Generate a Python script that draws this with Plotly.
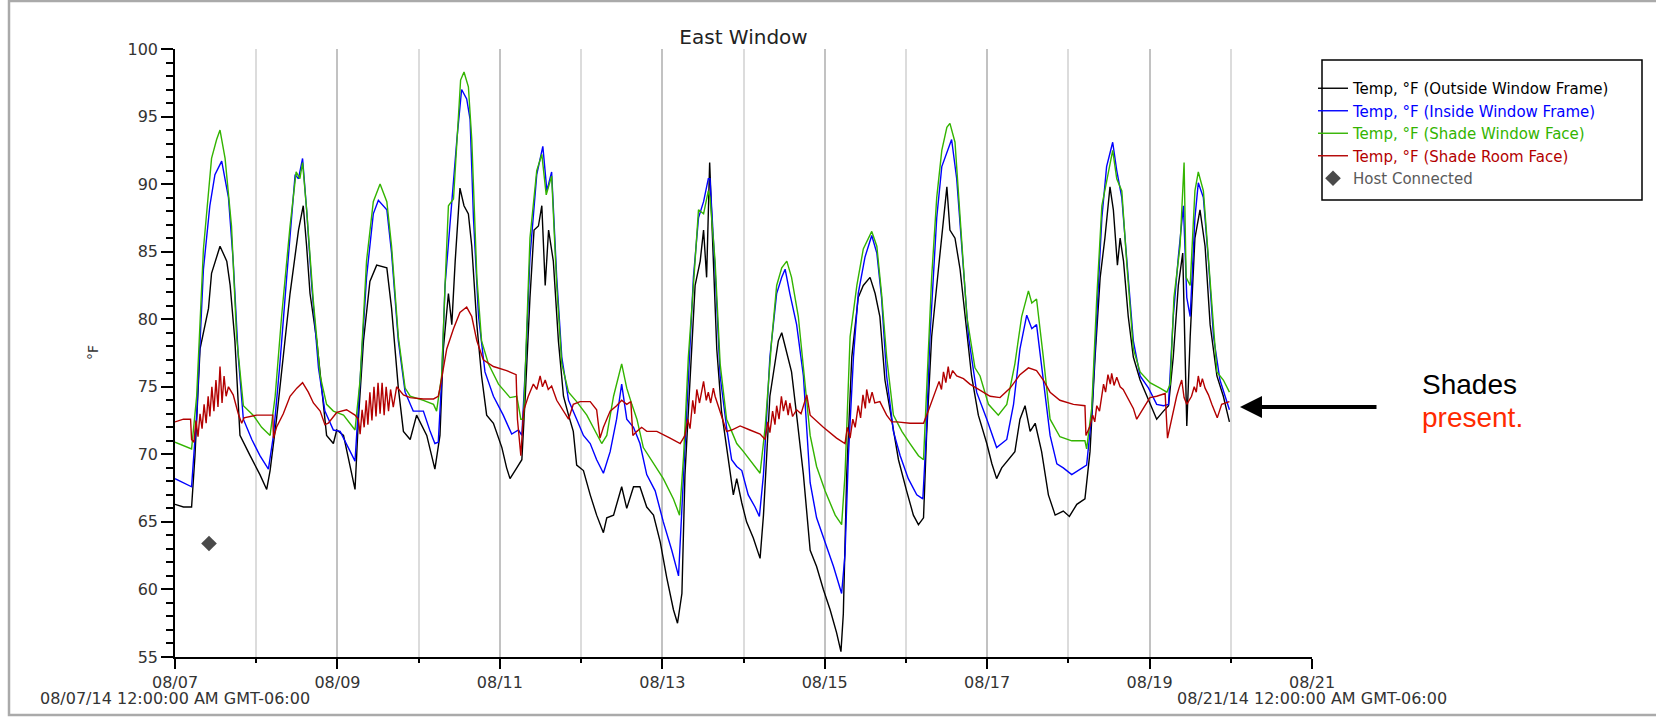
import pandas as pd
import plotly.graph_objects as go

START = pd.Timestamp("2014-08-07 00:00")

# ---- data (hours since 08/07/14 00:00, temperature in °F) ----
outside_h = [0, 2.5, 4.9, 5.9, 7.4, 9.9, 10.8, 13.3, 15.3, 16.3, 17.7, 19.2, 22.2, 25.1, 27.1, 28.1, 30.0, 32.0, 34.0, 36.5, 37.9, 38.9, 39.9, 41.9, 43.3, 44.8, 46.8, 47.8, 49.8, 51.7, 53.2, 54.2, 55.7, 57.6, 59.6, 62.6, 64.0, 66.0, 67.5, 69.5, 71.4, 74.4, 76.8, 78.3,
             79.3, 80.8, 81.8, 82.8, 84.2, 85.4, 86.7, 87.7, 89.2, 90.6, 92.1, 94.1, 96.6, 98.0, 99.0, 101.0, 102.5, 103.5, 104.9, 106.1, 107.4, 108.4, 109.4, 110.4, 111.8, 113.3, 114.8, 116.3, 117.7, 118.7, 120.7, 122.7, 124.6, 126.6, 127.6, 129.6, 132.0, 133.5, 135.5, 137.4, 139.4, 141.4, 143.4, 145.3, 147.3, 148.5, 149.8, 150.7, 152.2, 153.7, 155.2, 156.2, 157.1, 158.0,
             159.1, 160.1, 161.5, 163.5, 165.0, 166.0, 167.5, 168.9, 170.9, 172.9, 173.9, 175.8, 178.3, 179.3, 180.8, 182.2, 183.7, 185.7, 187.7, 189.6, 191.6, 193.6, 195.5, 196.8, 197.5, 198.5, 200.0, 201.9, 203.4, 205.4, 206.9, 208.3, 209.8, 211.8, 213.8, 216.2, 218.2, 219.7, 221.2, 222.1, 223.6, 225.6, 227.1, 228.1, 229.0, 230.5, 232.0, 233.5, 235.4, 237.4,
             239.9, 241.4, 242.8, 244.3, 246.3, 248.2, 249.7, 251.2, 252.7, 254.2, 256.1, 258.1, 260.1, 262.5, 264.3, 266.5, 268.9, 270.4, 271.9, 273.4, 274.8, 276.3, 277.3, 278.5, 279.3, 280.3, 281.7, 283.2, 285.2, 287.2, 288.6, 290.1, 292.1, 293.6, 295.0, 296.5, 297.8, 298.5, 299.0, 300.0, 301.4, 302.9, 304.4, 305.9, 307.9, 309.8, 311.6]
outside_v = [66.3, 66.1, 66.1, 69.9, 77.8, 80.8, 83.4, 85.4, 84.3, 82.5, 78.4, 71.4, 69.9, 68.5, 67.4, 68.8, 72.6, 77.2, 81.9, 86.6, 88.4, 85.4, 81.9, 78.4, 74.9, 71.4, 70.8, 71.8, 71.4, 69.3, 67.4, 72.6, 78.4, 82.8, 84.0, 83.8, 80.8, 74.9, 71.7, 71.1, 72.9, 71.4, 68.9, 71.4,
             77.8, 81.9, 79.6, 84.3, 89.7, 88.4, 87.8, 85.4, 79.6, 75.8, 72.9, 72.3, 70.5, 69.0, 68.2, 69.0, 69.6, 74.3, 81.6, 86.6, 86.9, 88.4, 82.5, 86.6, 84.3, 78.4, 74.3, 72.9, 71.7, 69.2, 68.8, 67.0, 65.5, 64.2, 65.3, 65.5, 67.6, 66.0, 67.6, 67.6, 66.1, 65.5, 63.5, 60.9, 58.5, 57.5, 59.7, 68.5, 75.8, 82.5, 84.3, 86.6, 83.1, 91.6,
             84.3, 77.8, 73.2, 69.6, 67.0, 68.2, 66.4, 65.0, 63.8, 62.3, 65.5, 74.3, 78.4, 79.0, 77.5, 76.1, 72.9, 68.5, 62.9, 61.7, 60.0, 58.5, 56.8, 55.4, 58.2, 68.5, 77.2, 81.6, 82.5, 83.1, 81.9, 80.2, 75.5, 72.6, 69.6, 67.3, 65.5, 64.8, 65.3, 71.4, 78.7, 83.7, 87.2, 89.8, 86.6, 86.0, 83.7, 80.2, 75.8, 72.9,
             70.8, 69.3, 68.2, 69.0, 69.6, 70.2, 72.6, 73.6, 71.7, 72.3, 70.2, 67.0, 65.5, 65.8, 65.4, 66.3, 66.7, 70.2, 77.2, 83.1, 86.0, 89.8, 88.1, 84.0, 86.0, 84.3, 80.2, 77.2, 75.5, 74.3, 73.4, 72.6, 73.2, 73.6, 77.2, 82.5, 84.9, 75.8, 72.1, 78.7, 86.0, 88.1, 85.4, 79.6, 75.8, 74.3, 72.4]

inside_h = [0, 4.9, 6.4, 8.4, 10.3, 11.8, 13.8, 15.8, 17.2, 18.7, 20.2, 22.7, 25.1, 27.6, 29.1, 31.0, 33.0, 35.5, 36.5, 37.7, 38.9, 40.4, 42.4, 44.3, 46.8, 48.8, 51.2, 53.2, 54.7, 56.6, 58.6, 60.1, 62.6, 64.0, 66.0, 68.0, 70.4, 73.4, 75.4, 76.8, 77.8,
            78.8, 79.8, 81.3, 83.3, 84.7, 86.2, 87.2, 88.2, 89.7, 91.6, 94.1, 97.0, 99.5, 101.5, 102.5, 103.7, 104.9, 106.9, 108.7, 109.9, 111.3, 112.8, 114.3, 116.3, 118.7, 120.7, 122.7, 124.6, 126.6, 128.6, 130.5, 132.0, 133.5, 135.5, 137.4, 139.4, 141.9, 144.3, 146.8, 148.8, 150.3, 151.7, 153.2, 154.7, 156.2, 157.6,
            158.1, 159.6, 161.1, 163.0, 164.5, 166.0, 167.5, 169.4, 171.4, 172.7, 173.9, 175.8, 177.8, 179.3, 180.3, 181.7, 183.7, 185.7, 187.7, 189.6, 192.1, 194.6, 197.0, 198.0, 199.0, 200.5, 201.9, 203.9, 205.9, 207.4, 208.8, 210.3, 212.3, 214.3, 216.7, 219.2, 221.0, 222.0, 223.1, 225.1, 226.6, 228.1, 229.5, 231.0, 232.5, 234.5, 236.9,
            239.9, 242.8, 245.8, 247.8, 249.7, 251.7, 253.2, 254.6, 256.6, 258.6, 260.6, 262.5, 265.0, 267.5, 269.4, 270.9, 272.4, 273.9, 275.3, 277.1, 278.3, 279.8, 281.3, 283.2, 285.2, 287.7, 290.1, 292.1, 293.6, 295.0, 296.5, 298.0, 299.0, 300.0, 301.4, 302.4, 303.9, 305.4, 306.9, 308.8, 311.6]
inside_v = [68.2, 67.6, 72.9, 83.7, 88.4, 90.7, 91.7, 89.0, 84.3, 77.2, 72.6, 71.1, 69.9, 68.9, 71.4, 76.7, 83.1, 90.7, 90.4, 91.9, 88.1, 82.5, 76.4, 73.2, 71.8, 71.7, 70.5, 69.5, 75.5, 83.1, 87.8, 88.8, 88.1, 84.9, 78.4, 74.6, 73.2, 73.2, 71.7, 70.8, 70.9,
            75.5, 82.5, 87.2, 93.3, 97.0, 96.3, 94.8, 87.5, 80.2, 76.1, 74.3, 72.9, 71.5, 71.8, 71.4, 77.2, 84.6, 90.7, 92.8, 89.5, 90.9, 83.1, 77.2, 74.0, 72.6, 71.4, 70.8, 69.6, 68.6, 70.2, 72.6, 75.2, 72.6, 72.0, 70.8, 68.5, 67.3, 65.0, 62.9, 61.0, 68.5, 75.8, 83.1, 87.5, 88.7, 90.4,
            90.4, 83.7, 75.8, 72.0, 69.6, 69.1, 68.8, 67.0, 66.1, 65.4, 68.5, 77.2, 81.9, 83.1, 83.7, 81.9, 79.6, 75.8, 67.9, 65.3, 63.5, 61.7, 59.7, 62.6, 69.9, 77.2, 81.9, 84.6, 86.2, 84.9, 81.6, 75.8, 71.7, 69.9, 68.2, 67.0, 66.7, 71.4, 78.7, 87.5, 91.3, 92.3, 93.3, 90.4, 85.2, 78.7, 74.6,
            72.6, 70.5, 71.1, 73.7, 77.8, 80.3, 79.3, 79.6, 75.5, 71.4, 69.3, 69.0, 68.5, 68.9, 69.2, 72.9, 80.2, 87.5, 91.3, 93.1, 91.0, 89.0, 84.3, 78.4, 75.8, 74.9, 73.7, 73.6, 73.7, 80.2, 84.6, 88.4, 81.6, 80.2, 87.5, 90.1, 89.0, 84.3, 78.7, 75.5, 73.3]

shade_win_h = [0, 4.9, 6.4, 8.4, 10.8, 12.3, 13.3, 14.8, 16.7, 18.2, 20.2, 23.1, 25.6, 28.1, 29.6, 31.5, 34.0, 35.8, 36.9, 37.7, 38.9, 40.9, 42.9, 44.8, 46.8, 49.8, 53.2, 54.7, 56.6, 58.6, 60.6, 62.6, 64.0, 66.0, 68.0, 69.5, 73.4, 76.4, 77.3, 78.8,
               79.8, 80.8, 82.3, 83.3, 84.4, 85.4, 86.7, 87.7, 89.2, 90.6, 92.6, 95.6, 99.0, 101.0, 102.2, 103.0, 103.7, 104.9, 106.9, 108.4, 109.7, 111.3, 112.8, 114.3, 116.3, 118.7, 121.7, 124.1, 126.1, 127.6, 129.6, 132.0, 133.5, 135.0, 136.5, 138.4, 141.4, 144.3, 147.3, 149.1, 150.3, 151.7, 153.2, 154.7, 156.2, 157.6,
               158.1, 159.6, 161.1, 163.0, 164.5, 166.0, 168.0, 170.9, 172.9, 174.4, 176.3, 177.8, 179.3, 180.8, 182.2, 184.2, 186.2, 187.7, 189.6, 192.1, 195.1, 197.0, 198.0, 199.5, 201.5, 203.4, 205.9, 207.4, 208.8, 210.3, 212.3, 214.8, 217.2, 219.7, 221.2, 222.1, 223.6, 225.1, 226.6, 228.1, 229.0, 230.5, 232.0, 234.0, 236.4,
               237.9, 240.4, 243.3, 245.8, 248.2, 250.2, 252.2, 253.2, 254.6, 256.6, 258.6, 261.5, 265.0, 268.9, 269.4, 270.9, 272.4, 273.9, 275.3, 277.1, 278.3, 279.8, 281.3, 283.2, 285.2, 288.1, 291.1, 293.1, 294.1, 295.2, 297.0, 298.2, 298.8, 300.0, 301.4, 302.4, 303.9, 305.9, 307.9, 309.8, 311.6]
shade_win_v = [70.9, 70.4, 74.3, 85.2, 91.9, 93.3, 94.0, 91.9, 86.9, 78.7, 73.6, 72.9, 72.0, 71.4, 74.3, 80.2, 86.9, 90.9, 90.4, 91.6, 88.1, 81.3, 75.8, 73.7, 73.2, 72.9, 71.8, 75.5, 84.3, 88.7, 90.0, 88.7, 85.4, 78.7, 74.9, 74.3, 74.0, 73.7, 73.2, 75.8,
               82.5, 88.4, 88.9, 92.8, 97.7, 98.3, 97.2, 93.3, 83.1, 78.4, 76.7, 75.2, 74.2, 74.3, 72.6, 72.6, 77.2, 86.0, 91.0, 92.2, 89.2, 90.6, 82.5, 76.7, 74.6, 73.9, 72.9, 71.7, 70.8, 71.4, 74.3, 76.7, 74.9, 73.7, 72.6, 70.5, 69.3, 68.2, 66.7, 65.5, 69.9, 77.2, 82.5, 88.1, 87.8, 89.5,
               89.0, 84.3, 76.7, 72.6, 71.7, 70.8, 70.2, 69.3, 68.6, 72.0, 78.4, 82.5, 83.8, 84.3, 83.1, 80.2, 74.9, 71.4, 69.1, 67.3, 65.5, 64.8, 68.5, 78.7, 82.5, 85.2, 86.5, 85.4, 81.9, 77.2, 72.9, 71.7, 70.8, 69.9, 69.6, 74.3, 83.1, 89.0, 92.5, 94.2, 94.5, 93.1, 87.5, 80.2, 76.4,
               75.8, 73.7, 72.9, 73.7, 76.7, 80.2, 82.1, 81.2, 81.5, 77.2, 72.6, 71.3, 71.0, 71.0, 70.4, 73.4, 81.6, 88.4, 90.1, 92.5, 90.4, 89.5, 84.0, 77.8, 76.1, 75.3, 74.9, 74.6, 75.2, 81.6, 85.4, 91.6, 83.1, 82.5, 89.5, 90.9, 89.5, 82.5, 76.1, 75.5, 74.6]

shade_room_h = [0, 2.5, 4.6, 4.9, 5.6, 6.2, 6.8, 7.4, 8.0, 8.6, 9.2, 9.8, 10.3, 10.9, 11.5, 12.1, 12.7, 13.3, 13.9, 14.5, 15.1, 15.8, 17.2, 18.7, 19.7, 20.4, 24.1, 28.9, 29.1, 30.0, 32.0, 34.0, 36.0, 37.7, 39.4, 40.9, 42.9, 44.3, 45.3, 47.8, 50.7, 53.2, 54.2, 54.7, 55.3, 55.9, 56.5, 57.0, 57.6, 58.2, 58.8, 59.4, 60.0, 60.6, 61.2, 61.8, 62.4, 63.1, 63.7, 64.5, 65.5, 67.5, 69.5, 73.4, 76.4, 77.8,
                78.3, 80.3, 82.3, 84.2, 86.2, 87.7, 89.2, 91.1, 94.1, 98.0, 100.8, 101.2, 102.2, 103.0, 104.4, 105.9, 106.9, 107.9, 108.6, 109.4, 110.3, 111.3, 112.8, 114.8, 116.3, 117.7, 119.7, 122.7, 124.6, 125.6, 126.6, 128.6, 130.5, 132.0, 133.5, 134.7, 135.3, 136.5, 137.9, 139.4, 142.4, 146.3, 149.3, 150.7, 151.5, 152.2, 153.0, 153.6, 154.2, 155.0, 156.2, 157.0, 157.6, 158.3, 159.1,
                159.6, 161.1, 163.0, 164.5, 167.0, 169.9, 172.9, 174.4, 175.2, 175.8, 176.6, 177.3, 177.8, 178.5, 179.2, 179.8, 180.5, 181.2, 181.7, 182.5, 183.7, 185.0, 186.7, 187.7, 191.6, 195.5, 198.0, 198.7, 199.5, 200.3, 201.0, 201.9, 202.6, 203.3, 204.0, 204.4, 205.2, 206.0, 206.8, 208.3, 210.3, 211.8, 213.3, 217.2, 221.2, 222.6, 224.6, 225.8, 226.5, 227.1, 227.8, 228.5, 229.0, 229.8, 231.0, 233.0, 234.9, 236.9,
                239.4, 240.9, 243.8, 246.8, 249.7, 252.2, 254.6, 256.6, 258.6, 261.5, 265.5, 268.9, 269.2, 270.4, 271.2, 271.8, 272.4, 273.2, 274.4, 275.0, 275.7, 276.4, 276.8, 277.5, 278.3, 279.3, 280.2, 281.3, 282.3, 283.2, 284.2, 286.2, 288.1, 290.1, 292.6, 293.3, 294.5, 295.3, 296.0, 296.7, 297.5, 298.2, 299.0, 300.4, 301.2, 301.8, 302.4, 303.0, 303.6, 304.4, 305.4, 306.4, 308.0, 309.3, 311.6]
shade_room_v = [72.4, 72.6, 72.6, 71.1, 70.9, 72.5, 71.3, 73.0, 71.9, 73.7, 72.3, 74.3, 72.8, 75.0, 73.2, 75.5, 73.5, 76.5, 73.8, 75.8, 74.3, 75.0, 74.4, 73.0, 72.3, 72.7, 72.9, 72.9, 71.2, 72.0, 73.0, 74.3, 74.9, 75.3, 74.6, 73.8, 73.2, 72.2, 72.3, 73.1, 73.3, 72.9, 72.6, 71.5, 73.3, 72.0, 74.0, 72.2, 74.6, 72.5, 75.0, 72.8, 75.3, 73.0, 75.3, 72.9, 75.0, 73.2, 74.8, 73.5, 75.0, 74.4, 74.2, 74.1, 74.1, 74.3,
                74.9, 77.8, 79.3, 80.5, 80.9, 80.2, 78.4, 77.0, 76.5, 76.2, 75.9, 72.6, 69.9, 73.2, 74.3, 75.2, 74.8, 75.8, 75.0, 75.5, 74.8, 75.05, 74.0, 73.2, 72.6, 73.7, 73.9, 73.9, 73.3, 71.2, 72.0, 73.2, 73.6, 74.0, 73.7, 73.9, 71.4, 71.7, 72.0, 71.7, 71.7, 71.2, 70.8, 71.4, 72.6, 71.9, 74.0, 73.0, 74.8, 73.8, 75.4, 74.0, 74.6, 73.8, 74.9,
                74.3, 73.2, 71.7, 71.8, 72.1, 71.8, 71.5, 71.1, 72.4, 71.6, 73.2, 72.2, 73.6, 72.6, 74.3, 73.2, 74.0, 72.9, 73.8, 72.8, 73.3, 73.0, 74.4, 72.9, 72.0, 71.2, 70.8, 72.0, 71.2, 72.6, 72.0, 73.6, 72.7, 74.4, 73.4, 74.8, 73.8, 74.6, 73.8, 73.9, 72.9, 72.4, 72.4, 72.3, 72.3, 73.2, 74.6, 75.4, 74.8, 76.1, 75.3, 76.5, 75.6, 76.2, 75.8, 75.6, 75.2, 74.9,
                74.5, 74.3, 74.2, 74.9, 75.9, 76.4, 76.2, 75.5, 74.6, 74.0, 73.7, 73.6, 71.4, 72.1, 72.9, 72.4, 73.6, 73.2, 75.2, 74.6, 75.9, 75.2, 76.0, 75.1, 75.7, 75.0, 74.8, 74.3, 73.9, 73.4, 72.6, 73.4, 74.2, 74.3, 74.5, 71.2, 72.6, 73.6, 74.3, 74.9, 75.5, 74.2, 73.7, 74.3, 75.0, 74.6, 75.8, 75.0, 75.6, 74.9, 74.4, 73.7, 72.7, 73.7, 73.9]

host_h = [10.05]
host_v = [63.4]

SERIES = [
    ("Temp, °F (Outside Window Frame)", outside_h, outside_v, "#000000"),
    ("Temp, °F (Inside Window Frame)", inside_h, inside_v, "#0000ff"),
    ("Temp, °F (Shade Window Face)", shade_win_h, shade_win_v, "#33b400"),
    ("Temp, °F (Shade Room Face)", shade_room_h, shade_room_v, "#b30000"),
]

def to_time(hours):
    return START + pd.to_timedelta(hours, unit="h")

fig = go.Figure()
for name, hh, vv, col in SERIES:
    fig.add_trace(go.Scatter(
        x=to_time(hh), y=vv, mode="lines", line=dict(color=col, width=1.4),
        name=f"<span style='color:{col}'>{name}</span>",
    ))
fig.add_trace(go.Scatter(
    x=to_time(host_h), y=host_v, mode="markers",
    marker=dict(symbol="diamond", size=12, color="#4a4a4a"),
    name="<span style='color:#5a5a5a'>Host Connected</span>",
))

# plot area: left 175, right 1312, top 49, bottom 657 (px)
L, R, T, B = 175, 1312, 49, 657
W, H = 1656, 717
def px(xp):
    return (xp - L) / (R - L)
def py(yp):
    return (B - yp) / (B - T)

font_main = "DejaVu Sans"
fig.update_layout(
    width=W, height=H, autosize=False,
    margin=dict(l=L, r=W - R, t=T, b=H - B),
    paper_bgcolor="white", plot_bgcolor="white",
    font=dict(family=font_main, size=16, color="#333333"),
    title=dict(text="East Window", x=(L + R) / 2 / W, xanchor="center",
               y=1 - 37 / H, yanchor="middle",
               font=dict(family=font_main, size=20, color="#222222")),
    showlegend=True,
    legend=dict(x=px(1313), xanchor="left", y=py(72), yanchor="top",
                bgcolor="rgba(0,0,0,0)", borderwidth=0,
                font=dict(family=font_main, size=15, color="#333333"),
                tracegroupgap=0, itemwidth=30),
    xaxis=dict(
        type="date",
        range=[START, START + pd.Timedelta(days=14)],
        tick0=START, dtick=2 * 86400000, tickformat="%m/%d",
        ticks="outside", ticklen=10, tickwidth=1.5, tickcolor="black",
        showline=True, linecolor="black", linewidth=1.5,
        showgrid=True, gridcolor="#c2c2c2", gridwidth=1.5,
        zeroline=False,
        tickfont=dict(family=font_main, size=16, color="#333333"),
        minor=dict(dtick=86400000, ticks="outside", ticklen=4, tickwidth=1.5,
                   tickcolor="black", showgrid=True, gridcolor="#dcdcdc", gridwidth=1.5),
    ),
    yaxis=dict(
        range=[55, 100], dtick=5, tick0=55,
        ticks="outside", ticklen=12, tickwidth=1.5, tickcolor="black",
        showline=True, linecolor="black", linewidth=1.5,
        showgrid=False, zeroline=False,
        tickfont=dict(family=font_main, size=16, color="#333333"),
        minor=dict(dtick=1, ticks="outside", ticklen=7, tickwidth=1.5,
                   tickcolor="black", showgrid=False),
    ),
)

shapes = [
    # outer panel frame
    dict(type="rect", xref="paper", yref="paper",
         x0=px(9), x1=px(1670), y0=py(715), y1=py(1),
         line=dict(color="#aaaaaa", width=2.5), layer="below"),
    # legend box
    dict(type="rect", xref="paper", yref="paper",
         x0=px(1322), x1=px(1642), y0=py(200), y1=py(60),
         line=dict(color="black", width=1.5)),
]
fig.update_layout(shapes=shapes)

annotations = [
    dict(text="°F", xref="paper", yref="paper", x=px(93), y=0.5, textangle=-90,
         xanchor="center", yanchor="middle",
         showarrow=False, font=dict(family=font_main, size=14, color="#333333")),
    dict(text="08/07/14 12:00:00 AM GMT-06:00", xref="paper", yref="paper",
         x=0, y=py(698), xanchor="center", yanchor="middle", showarrow=False,
         font=dict(family=font_main, size=16, color="#333333")),
    dict(text="08/21/14 12:00:00 AM GMT-06:00", xref="paper", yref="paper",
         x=1, y=py(698), xanchor="center", yanchor="middle", showarrow=False,
         font=dict(family=font_main, size=16, color="#333333")),
    dict(text="", xref="paper", yref="paper", x=px(1240), y=py(407),
         ax=138, ay=0, showarrow=True, arrowhead=2, arrowsize=1.1,
         arrowwidth=4, arrowcolor="black"),
    dict(text="Shades", xref="paper", yref="paper", x=px(1420), y=py(385),
         xanchor="left", yanchor="middle", showarrow=False,
         font=dict(family="Liberation Sans", size=28, color="black")),
    dict(text="present.", xref="paper", yref="paper", x=px(1420), y=py(417),
         xanchor="left", yanchor="middle", showarrow=False,
         font=dict(family="Liberation Sans", size=28, color="#ff2a00")),
]
fig.update_layout(annotations=annotations)

fig.write_html(
    "out.html",
    config={"displayModeBar": False},
    post_script="document.body.style.margin='0px';document.body.style.overflow='hidden';",
)
